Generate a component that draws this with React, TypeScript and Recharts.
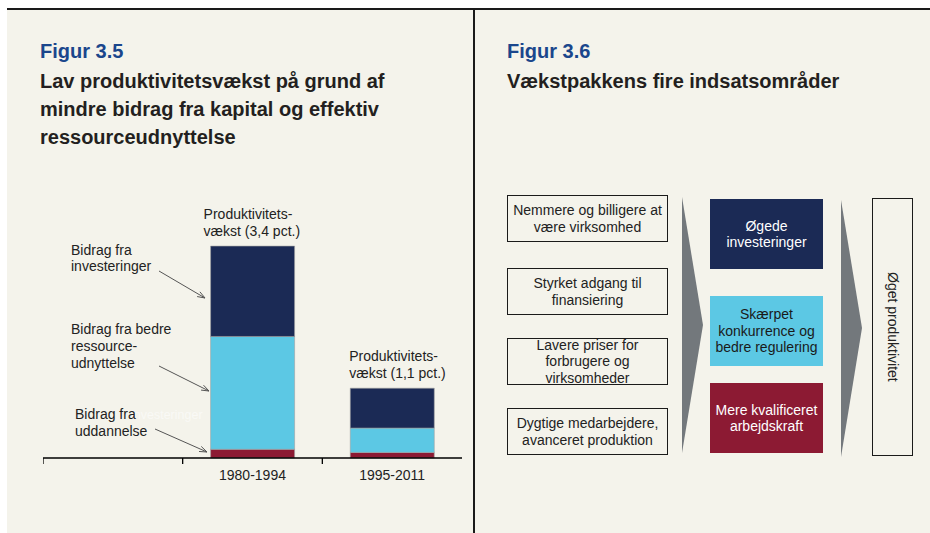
import { BarChart, Bar, XAxis, YAxis, LabelList } from "recharts";

const categories = ["", "1980-1994", "1995-2011"];
const uddannelse = [null, 0.14, 0.09];
const ressource = [null, 1.81, 0.39];
const investeringer = [null, 1.45, 0.64];
const totals = ["", "3,4", "1,1"];

const data = categories.map((period, i) => ({
  period,
  uddannelse: uddannelse[i],
  ressource: ressource[i],
  investeringer: investeringer[i],
  total: totals[i],
}));

const FONT = "'Liberation Sans', Arial, Helvetica, sans-serif";
const CHART_W = 419;
const BAND = CHART_W / categories.length;

const leftBoxes = [
  ["Nemmere og billigere at", "være virksomhed"],
  ["Styrket adgang til", "finansiering"],
  ["Lavere priser for", "forbrugere og", "virksomheder"],
  ["Dygtige medarbejdere,", "avanceret produktion"],
];
const leftBoxTops = [195, 268, 338, 408];

const areas = [
  { lines: ["Øgede", "investeringer"], fill: "#1b2a55", color: "#ffffff" },
  { lines: ["Skærpet", "konkurrence og", "bedre regulering"], fill: "#5cc8e4", color: "#1a1a1a" },
  { lines: ["Mere kvalificeret", "arbejdskraft"], fill: "#8c1a33", color: "#ffffff" },
];
const areaTops = [199, 296, 383];

function PeriodTick(props: any) {
  const { x, y, payload } = props;
  return (
    <g>
      <line x1={x - BAND / 2} x2={x - BAND / 2} y1={y} y2={y + 6} stroke="#000" strokeWidth={1.3} />
      <text x={x} y={y + 22} textAnchor="middle" fontSize={14} fill="#222" fontFamily={FONT}>
        {payload.value}
      </text>
    </g>
  );
}

function TotalLabel(props: any) {
  const { x, y, width, value } = props;
  if (!value) return null;
  // second label sits a little right of its bar in the original
  const cx = x + width / 2 + (value === "1,1" ? 6 : 0);
  return (
    <text textAnchor="start" fontSize={14} fill="#222" fontFamily={FONT}>
      <tspan x={cx - 49} y={y - 27}>Produktivitets-</tspan>
      <tspan x={cx - 49} y={y - 10}>vækst ({value} pct.)</tspan>
    </text>
  );
}

function Arrow({ x1, y1, x2, y2 }: { x1: number; y1: number; x2: number; y2: number }) {
  const a = Math.atan2(y2 - y1, x2 - x1);
  const h = 8;
  const p1 = [x2 - h * Math.cos(a - 0.35), y2 - h * Math.sin(a - 0.35)];
  const p2 = [x2 - h * Math.cos(a + 0.35), y2 - h * Math.sin(a + 0.35)];
  return (
    <g stroke="#555" strokeWidth={1} fill="none">
      <line x1={x1} y1={y1} x2={x2} y2={y2} />
      <polyline points={`${p1[0]},${p1[1]} ${x2},${y2} ${p2[0]},${p2[1]}`} />
    </g>
  );
}

export default function App() {
  return (
    <div style={{ position: "absolute", left: 0, top: 0, width: 930, height: 533, background: "#fff", fontFamily: FONT, overflow: "hidden" }}>
      <div style={{ position: "absolute", left: 7, top: 10, width: 923, height: 523, background: "#f4f3eb" }} />
      <div style={{ position: "absolute", left: 7, top: 8, width: 923, height: 2, background: "#1a1a1a" }} />
      <div style={{ position: "absolute", left: 473, top: 10, width: 2, height: 523, background: "#1a1a1a" }} />

      <div style={{ position: "absolute", left: 40, top: 40, fontSize: 20, fontWeight: 700, color: "#1a468c" }}>Figur 3.5</div>
      <div style={{ position: "absolute", left: 40, top: 67, fontSize: 20, fontWeight: 700, color: "#231f20", lineHeight: "28px" }}>
        Lav produktivitetsvækst på grund af
        <br />
        mindre bidrag fra kapital og effektiv
        <br />
        ressourceudnyttelse
      </div>
      <div style={{ position: "absolute", left: 507, top: 40, fontSize: 20, fontWeight: 700, color: "#1a468c" }}>Figur 3.6</div>
      <div style={{ position: "absolute", left: 507, top: 67, fontSize: 20, fontWeight: 700, color: "#231f20", lineHeight: "28px" }}>
        Vækstpakkens fire indsatsområder
      </div>

      <div style={{ position: "absolute", left: 43, top: 190 }}>
        <BarChart width={CHART_W} height={300} data={data} margin={{ top: 0, right: 0, bottom: 0, left: 0 }} barCategoryGap="20%">
          <YAxis hide domain={[0, 4.3]} />
          <XAxis
            dataKey="period"
            height={32}
            axisLine={{ stroke: "#000", strokeWidth: 1.5 }}
            tickLine={false}
            tickSize={0}
            tickMargin={0}
            interval={0}
            tick={<PeriodTick />}
          />
          <Bar dataKey="uddannelse" stackId="a" fill="#8c1a33" stroke="#a0a0a0" strokeWidth={0.6} isAnimationActive={false} />
          <Bar dataKey="ressource" stackId="a" fill="#5cc8e4" stroke="#a0a0a0" strokeWidth={0.6} isAnimationActive={false} />
          <Bar dataKey="investeringer" stackId="a" fill="#1b2a55" stroke="#a0a0a0" strokeWidth={0.6} isAnimationActive={false}>
            <LabelList dataKey="total" content={<TotalLabel />} />
          </Bar>
        </BarChart>
      </div>

      <svg width={930} height={533} style={{ position: "absolute", left: 0, top: 0, pointerEvents: "none" }}>
        <g fontSize={14} fill="#222" fontFamily={FONT}>
          <text x={71} y={255}>Bidrag fra</text>
          <text x={71} y={271}>investeringer</text>
          <text x={71} y={334}>Bidrag fra bedre</text>
          <text x={71} y={351}>ressource-</text>
          <text x={71} y={368}>udnyttelse</text>
          <text x={131} y={419} fontSize={12.5} fill="#ffffff" opacity={0.55}>investeringer</text>
          <text x={75} y={419}>Bidrag fra</text>
          <text x={75} y={436}>uddannelse</text>
        </g>
        <Arrow x1={159} y1={271} x2={205} y2={298} />
        <Arrow x1={159} y1={366} x2={209} y2={391} />
        <Arrow x1={155} y1={429} x2={207} y2={452} />
        <polygon points="682,197 703,325 682,453" fill="#73787c" />
        <polygon points="841,200 862,328 841,457" fill="#73787c" />
      </svg>

      {leftBoxes.map((lines, i) => (
        <div
          key={i}
          style={{
            position: "absolute",
            left: 507,
            top: leftBoxTops[i],
            width: 159,
            height: 45,
            border: "1.5px solid #1a1a1a",
            display: "flex",
            alignItems: "center",
            justifyContent: "center",
            textAlign: "center",
            fontSize: 14,
            lineHeight: "16.5px",
            color: "#222",
          }}
        >
          <div>
            {lines.map((l) => (
              <div key={l} style={{ whiteSpace: "nowrap" }}>{l}</div>
            ))}
          </div>
        </div>
      ))}

      {areas.map((a, i) => (
        <div
          key={i}
          style={{
            position: "absolute",
            left: 710,
            top: areaTops[i],
            width: 113,
            height: 70,
            background: a.fill,
            color: a.color,
            display: "flex",
            alignItems: "center",
            justifyContent: "center",
            textAlign: "center",
            fontSize: 14,
            lineHeight: "16.5px",
          }}
        >
          <div>
            {a.lines.map((l) => (
              <div key={l} style={{ whiteSpace: "nowrap" }}>{l}</div>
            ))}
          </div>
        </div>
      ))}

      <div
        style={{
          position: "absolute",
          left: 872,
          top: 198,
          width: 39,
          height: 256,
          border: "1.5px solid #1a1a1a",
          display: "flex",
          alignItems: "center",
          justifyContent: "center",
        }}
      >
        <div style={{ writingMode: "vertical-rl", fontSize: 14, color: "#222" }}>Øget produktivitet</div>
      </div>
    </div>
  );
}
